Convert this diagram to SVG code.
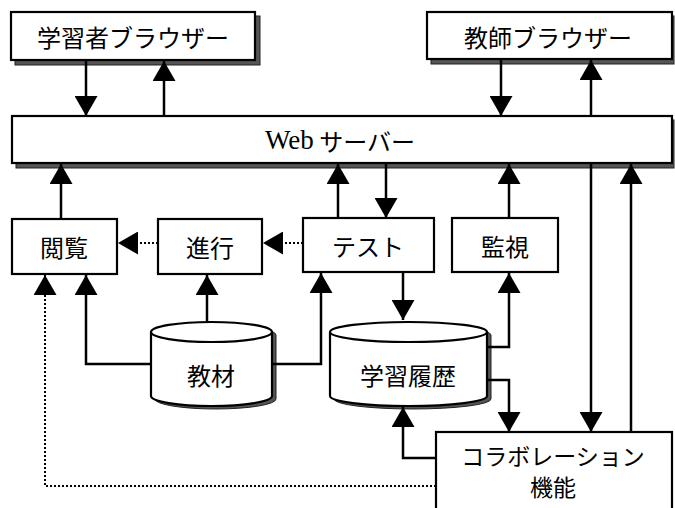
<svg xmlns="http://www.w3.org/2000/svg" width="675" height="508" viewBox="0 0 675 508">
<defs>
  <marker id="ah" markerUnits="userSpaceOnUse" markerWidth="22" markerHeight="23" viewBox="0 0 20 23" refX="20" refY="11.5" orient="auto">
    <path d="M0,0 L20,11.5 L0,23 Z" fill="#000"/>
  </marker>
</defs>
<style>
  .box { fill: #fff; stroke: #000; stroke-width: 2.2; }
  .shadow { fill: #555; stroke: #222; stroke-width: 1; }
  .lbl { font-family: "Noto Sans CJK JP", "Noto Sans", sans-serif; font-size: 24px; fill: #000; text-anchor: middle; dominant-baseline: central; }
  .ln { fill: none; stroke: #000; stroke-width: 2.5; }
  .dot { fill: none; stroke: #000; stroke-width: 2; stroke-dasharray: 2 2; }
  .arr { marker-end: url(#ah); }
</style>

<g id="learner-browser">
  <rect class="shadow" x="15" y="16" width="245" height="49"/>
  <rect class="box" x="11" y="12" width="244" height="48"/>
  <text class="lbl" x="133" y="36">学習者ブラウザー</text>
</g>
<g id="teacher-browser">
  <rect class="shadow" x="431" y="16" width="243" height="48"/>
  <rect class="box" x="427" y="12" width="245" height="47"/>
  <text class="lbl" x="548" y="36">教師ブラウザー</text>
</g>
<g id="web-server">
  <rect class="shadow" x="16" y="120" width="658" height="48"/>
  <rect class="box" x="12" y="116" width="660" height="47"/>
  <text class="lbl" x="265" y="140" style="text-anchor:start"><tspan style="font-family:'Liberation Serif', serif; font-size:27px">Web</tspan> サーバー</text>
</g>
<g id="browse">
  <rect class="box" x="12" y="219" width="105" height="55"/>
  <text class="lbl" x="64" y="246">閲覧</text>
</g>
<g id="progress">
  <rect class="box" x="158" y="219" width="104" height="55"/>
  <text class="lbl" x="210" y="246">進行</text>
</g>
<g id="test">
  <rect class="box" x="303" y="218" width="131" height="54"/>
  <text class="lbl" x="368" y="245">テスト</text>
</g>
<g id="monitor">
  <rect class="box" x="452" y="218" width="106" height="54"/>
  <text class="lbl" x="505" y="245">監視</text>
</g>
<g id="materials">
  <path class="shadow" d="M155,335 A60.5,10 0 0 1 276,335 V399 A60.5,10 0 0 1 155,399 Z"/>
  <path class="box" d="M151,332 A60.5,10 0 0 1 272,332 V396 A60.5,10 0 0 1 151,396 Z"/>
  <path class="box" style="fill:none" d="M151,332 A60.5,10 0 0 0 272,332"/>
  <text class="lbl" x="211" y="374">教材</text>
</g>
<g id="learning-history">
  <path class="shadow" d="M334,335 A78.5,10 0 0 1 491,335 V399 A78.5,10 0 0 1 334,399 Z"/>
  <path class="box" d="M330,332 A78.5,10 0 0 1 487,332 V396 A78.5,10 0 0 1 330,396 Z"/>
  <path class="box" style="fill:none" d="M330,332 A78.5,10 0 0 0 487,332"/>
  <text class="lbl" x="408" y="374">学習履歴</text>
</g>
<g id="collaboration">
  <rect class="box" x="436" y="432" width="236" height="90"/>
  <text class="lbl" x="553" y="455" style="font-size:23px">コラボレーション</text>
  <text class="lbl" x="553" y="486" style="font-size:23px">機能</text>
</g>

<g id="connectors">
  <line class="ln arr" x1="86" y1="60" x2="86" y2="116"/>
  <line class="ln arr" x1="164" y1="116" x2="164" y2="61"/>
  <line class="ln arr" x1="501" y1="59" x2="501" y2="116"/>
  <line class="ln arr" x1="591" y1="116" x2="591" y2="60"/>
  <line class="ln arr" x1="61" y1="219" x2="61" y2="164"/>
  <line class="ln arr" x1="338" y1="218" x2="338" y2="164"/>
  <line class="ln arr" x1="386" y1="163" x2="386" y2="218"/>
  <line class="ln arr" x1="509" y1="218" x2="509" y2="164"/>
  <line class="ln arr" x1="591" y1="163" x2="591" y2="432"/>
  <line class="ln arr" x1="631" y1="432" x2="631" y2="164"/>
  <line class="dot arr" x1="158" y1="243" x2="118" y2="243"/>
  <line class="dot arr" x1="303" y1="243" x2="263" y2="243"/>
  <polyline class="ln arr" points="151,364 86,364 86,275"/>
  <line class="ln arr" x1="207" y1="322" x2="207" y2="275"/>
  <polyline class="ln arr" points="272,364 321,364 321,273"/>
  <line class="ln arr" x1="403" y1="273" x2="403" y2="320"/>
  <polyline class="ln arr" points="487,347 509,347 509,273"/>
  <polyline class="ln arr" points="487,380 509,380 509,432"/>
  <polyline class="ln arr" points="436,458 403,458 403,407"/>
  <polyline class="dot arr" points="436,486 45,486 45,275"/>
</g>
</svg>
